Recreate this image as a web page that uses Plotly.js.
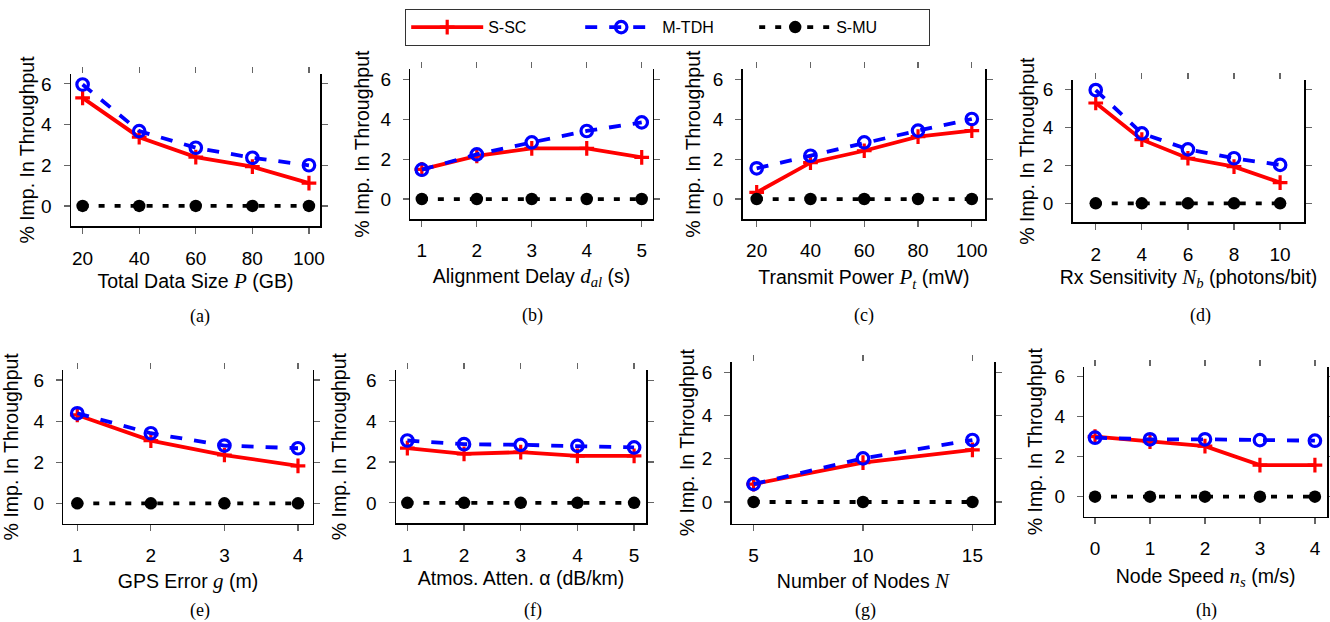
<!DOCTYPE html>
<html><head><meta charset="utf-8">
<script src="https://cdn.plot.ly/plotly-3.0.1.min.js"></script>
<style>html,body{margin:0;padding:0;background:#fff}#chart{width:1330px;height:622px}</style>
</head><body><div id="chart"></div>
<script>
// ---------- data ----------
const seriesNames = ['S-SC', 'M-TDH', 'S-MU'];
const yTicks = [0, 2, 4, 6];

const xA = [20, 40, 60, 80, 100];
const sscA = [5.31, 3.38, 2.40, 1.93, 1.12];
const mtdhA = [5.97, 3.68, 2.86, 2.37, 2.00];
const smuA = [0, 0, 0, 0, 0];

const xB = [1, 2, 3, 4, 5];
const sscB = [1.49, 2.16, 2.54, 2.54, 2.09];
const mtdhB = [1.47, 2.24, 2.84, 3.41, 3.84];
const smuB = [0, 0, 0, 0, 0];

const xC = [20, 40, 60, 80, 100];
const sscC = [0.33, 1.82, 2.42, 3.13, 3.43];
const mtdhC = [1.54, 2.17, 2.84, 3.43, 4.01];
const smuC = [0, 0, 0, 0, 0];

const xD = [2, 4, 6, 8, 10];
const sscD = [5.28, 3.35, 2.37, 1.93, 1.09];
const mtdhD = [5.96, 3.68, 2.84, 2.37, 2.02];
const smuD = [0, 0, 0, 0, 0];

const xE = [1, 2, 3, 4];
const sscE = [4.30, 3.05, 2.35, 1.82];
const mtdhE = [4.38, 3.41, 2.81, 2.68];
const smuE = [0, 0, 0, 0];

const xF = [1, 2, 3, 4, 5];
const sscF = [2.68, 2.40, 2.48, 2.30, 2.30];
const mtdhF = [3.05, 2.87, 2.84, 2.79, 2.71];
const smuF = [0, 0, 0, 0, 0];

const xG = [5, 10, 15];
const sscG = [0.83, 1.82, 2.41];
const mtdhG = [0.83, 2.02, 2.87];
const smuG = [0, 0, 0];

const xH = [0, 1, 2, 3, 4];
const sscH = [3.00, 2.75, 2.53, 1.58, 1.58];
const mtdhH = [2.95, 2.87, 2.87, 2.83, 2.80];
const smuH = [0, 0, 0, 0, 0];

const yTitle = '% Imp. In Throughput';
const sv = (s) => '<span style="font-family:Liberation Serif;font-size:21px"><i>' + s + '</i></span>';
const xTitles = [
  'Total Data Size ' + sv('P') + ' (GB)',
  'Alignment Delay ' + sv('d<sub>al</sub>') + ' (s)',
  'Transmit Power ' + sv('P<sub>t</sub>') + ' (mW)',
  'Rx Sensitivity ' + sv('N<sub>b</sub>') + ' (photons/bit)',
  'GPS Error ' + sv('g') + ' (m)',
  'Atmos. Atten. α (dB/km)',
  'Number of Nodes ' + sv('N'),
  'Node Speed ' + sv('n<sub>s</sub>') + ' (m/s)'
];
const captions = ['(a)', '(b)', '(c)', '(d)', '(e)', '(f)', '(g)', '(h)'];

// ---------- layout geometry ----------
const W = 1330, H = 622;
const panels = [
  {x: xA, s: [sscA, mtdhA, smuA], box: [71, 320, 73.7, 226.3], xr: [15.9, 103.9], xd: 55.4, yd: 44.3, cap: [200, 316]},
  {x: xB, s: [sscB, mtdhB, smuB], box: [410.3, 652.7, 69.3, 219], xr: [0.79, 5.2], xd: 57.7, yd: 48.6, cap: [532, 315]},
  {x: xC, s: [sscC, mtdhC, smuC], box: [742.7, 985, 69.3, 219], xr: [14.8, 104.9], xd: 59, yd: 49.7, cap: [864, 315]},
  {x: xD, s: [sscD, mtdhD, smuD], box: [1072.7, 1304.3, 79.8, 222.3], xr: [1.0, 11.05], xd: 54.4, yd: 46, cap: [1200, 315]},
  {x: xE, s: [sscE, mtdhE, smuE], box: [63.3, 312.7, 369.7, 523.9], xr: [0.81, 4.2], xd: 57.8, yd: 40, cap: [200, 610.5]},
  {x: xF, s: [sscF, mtdhF, smuF], box: [396, 646, 370, 523.3], xr: [0.8, 5.21], xd: 55.7, yd: 41, cap: [532.5, 610.5]},
  {x: xG, s: [sscG, mtdhG, smuG], box: [731.7, 994.3, 361.6, 523.6], xr: [4.0, 16.0], xd: 58, yd: 45, cap: [865, 610.5]},
  {x: xH, s: [sscH, mtdhH, smuH], box: [1084.3, 1327, 366.7, 516.7], xr: [-0.195, 4.22], xd: 60, yd: 49.3, cap: [1206, 610]}
];

const styles = [
  {line: {color: '#ff0000', width: 3.8}, marker: {symbol: 'cross-thin', size: 10.5, color: '#ff0000', line: {width: 3.2, color: '#ff0000'}}},
  {line: {color: '#0000ff', width: 3.8, dash: '12px,12px'}, marker: {symbol: 'circle-open', size: 11.5, color: '#0000ff', line: {width: 3.2, color: '#0000ff'}}},
  {line: {color: '#000000', width: 3.8, dash: '6px,10px'}, marker: {symbol: 'circle', size: 12.5, color: '#000000'}}
];

const SANS = 'Liberation Sans, Arial, sans-serif';
const KX = 49, KY = 43; // title offset calibration
const traces = [];
const layout = {
  width: W, height: H,
  margin: {l: 0, r: 0, t: 0, b: 0},
  paper_bgcolor: '#fff', plot_bgcolor: '#fff',
  font: {family: SANS, color: '#000'},
  showlegend: true,
  legend: {
    orientation: 'h', x: 405 / W, y: 1 - 9 / H, xanchor: 'left', yanchor: 'top',
    bordercolor: '#333', borderwidth: 1.2, bgcolor: '#fff',
    font: {family: SANS, size: 16, color: '#000'},
    itemwidth: 72, entrywidth: 87, entrywidthmode: 'pixels', traceorder: 'normal'
  },
  annotations: []
};

panels.forEach((p, i) => {
  const n = i + 1;
  const [l, r, t, b] = p.box;
  p.s.forEach((vals, k) => {
    traces.push({
      type: 'scatter', mode: 'lines+markers', name: seriesNames[k],
      x: p.x, y: vals, xaxis: 'x' + n, yaxis: 'y' + n,
      legendgroup: seriesNames[k], showlegend: i === 0,
      line: styles[k].line, marker: styles[k].marker, cliponaxis: false,
      hoverinfo: 'x+y+name'
    });
  });
  // invisible carrier so that the top tick axis gets drawn
  traces.push({
    type: 'scatter', mode: 'markers', x: p.x, y: p.x.map(() => null),
    xaxis: 'x' + (n + 8), yaxis: 'y' + n, showlegend: false, hoverinfo: 'skip',
    marker: {opacity: 0}
  });
  const common = {
    showgrid: false, zeroline: false, ticks: 'outside', ticklen: 6,
    tickcolor: '#666', tickwidth: 1.2, fixedrange: true,
    tickfont: {family: SANS, size: 19, color: '#000'}
  };
  layout['xaxis' + n] = Object.assign({}, common, {
    domain: [l / W, r / W], anchor: 'y' + n, range: p.xr, tickvals: p.x,
    showline: true, linecolor: '#000', linewidth: 1.5, ticklabelstandoff: 8,
    title: {text: xTitles[i], font: {family: SANS, size: 19.5, color: '#000'}, standoff: p.xd - KX}
  });
  layout['yaxis' + n] = Object.assign({}, common, {
    domain: [1 - b / H, 1 - t / H], anchor: 'x' + n, range: [-1, 6.5], tickvals: yTicks,
    showline: true, mirror: 'ticks', linecolor: '#000', linewidth: 1.5, ticklabelstandoff: 8,
    title: {text: yTitle, font: {family: SANS, size: 19.5, color: '#000'}, standoff: p.yd - KY}
  });
  layout['xaxis' + (n + 8)] = Object.assign({}, common, {
    overlaying: 'x' + n, anchor: 'y' + n, side: 'top', range: p.xr, tickvals: p.x,
    showline: false, showticklabels: false
  });
  layout.annotations.push({
    text: captions[i], xref: 'paper', yref: 'paper', x: p.cap[0] / W, y: 1 - p.cap[1] / H,
    xanchor: 'center', yanchor: 'middle', showarrow: false,
    font: {family: 'Liberation Serif, Times New Roman, serif', size: 18, color: '#000'}
  });
});

Plotly.newPlot('chart', traces, layout, {displayModeBar: false, staticPlot: true});
</script>
</body></html>
